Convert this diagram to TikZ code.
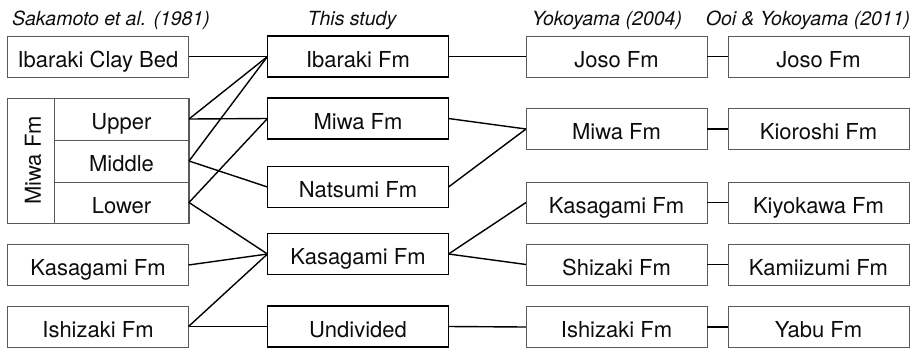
\documentclass[tikz,border=0pt]{standalone}
\usepackage{fontspec}
\setmainfont{TeX Gyre Heros}
\usetikzlibrary{positioning}

\begin{document}
\begin{tikzpicture}[x=1pt,y=-1pt,node distance=21pt,
  every node/.style={inner sep=0pt,outer sep=0pt,text=black!95},
  unit/.style={draw=black!65,line width=0.9pt,minimum width=181pt,minimum height=41pt,
    text height=21pt,text depth=0pt,font=\fontsize{22}{26}\selectfont},
  thisunit/.style={unit,draw=black,line width=1.5pt},
  sub/.style={unit,minimum width=135pt,minimum height=42pt},
  head/.style={anchor=base,font=\fontsize{19.5}{23}\selectfont\itshape},
  link/.style={line width=1.4pt}]
  \useasboundingbox (0,0) rectangle (915,349);
  % column headings
  \node[head] (h1) at (111,25) {Sakamoto et al. (1981)};
  \node[head] (h2) at (352,25) {This study};
  \node[head] (h3) at (607,25) {Yokoyama (2004)};
  \node[head] (h4) at (808,25) {Ooi \& Yokoyama (2011)};
  % Sakamoto et al.
  \node[unit] (sclay) at (98,56.5) {Ibaraki Clay Bed};
  \node[unit,minimum height=125pt] (smiwa) at (98,160.5) {};
  \node[sub] (supper) at (121.5,119) {Upper};
  \node[sub] (smiddle) at (121.5,161) {Middle};
  \node[sub,minimum height=41pt] (slower) at (121.5,202.5) {Lower};
  \node[font=\fontsize{22}{26}\selectfont,rotate=90] (smiwalab) at (33,160.5) {Miwa Fm};
  \node[unit] (skasa) at (98,265) {Kasagami Fm};
  \node[unit] (sishi) at (98,326.5) {Ishizaki Fm};
  % this study
  \node[thisunit] (tibar) at (358,56.5) {Ibaraki Fm};
  \node[thisunit] (tmiwa) at (358,118.5) {Miwa Fm};
  \node[thisunit] (tnats) at (358,187) {Natsumi Fm};
  \node[thisunit] (tkasa) at (358,254) {Kasagami Fm};
  \node[thisunit] (tundiv) at (358,326.5) {Undivided};
  % Yokoyama
  \node[unit] (yjoso) at (616.5,56.5) {Joso Fm};
  \node[unit] (ymiwa) at (616.5,129) {Miwa Fm};
  \node[unit] (ykasa) at (616.5,202.5) {Kasagami Fm};
  \node[unit] (yshiz) at (616.5,264.5) {Shizaki Fm};
  \node[unit] (yishi) at (616.5,327) {Ishizaki Fm};
  % Ooi & Yokoyama
  \node[unit] (ojoso) [right=of yjoso] {Joso Fm};
  \node[unit] (okior) [right=of ymiwa] {Kioroshi Fm};
  \node[unit] (okiyo) [right=of ykasa] {Kiyokawa Fm};
  \node[unit] (okami) [right=of yshiz] {Kamiizumi Fm};
  \node[unit] (oyabu) [right=of yishi] {Yabu Fm};
  \path[link] (sclay.east) edge (tibar.west)
        (supper.east) edge (tibar.west)
        (supper.east) edge (tmiwa.west)
        (smiddle.east) edge (tibar.west)
        (smiddle.east) edge (tnats.west)
        (slower.east) edge (tmiwa.west)
        (slower.east) edge (tkasa.west)
        (skasa.east) edge (tkasa.west)
        (sishi.east) edge (tkasa.west)
        (sishi.east) edge (tundiv.west)
        (tibar.east) edge (yjoso.west)
        (tmiwa.east) edge (ymiwa.west)
        (tnats.east) edge (ymiwa.west)
        (tkasa.east) edge (ykasa.west)
        (tkasa.east) edge (yshiz.west)
        (tundiv.east) edge (yishi.west)
        (yjoso) edge (ojoso)
        (ymiwa) edge (okior)
        (ykasa) edge (okiyo)
        (yshiz) edge (okami)
        (yishi) edge (oyabu);
\end{tikzpicture}
\end{document}
